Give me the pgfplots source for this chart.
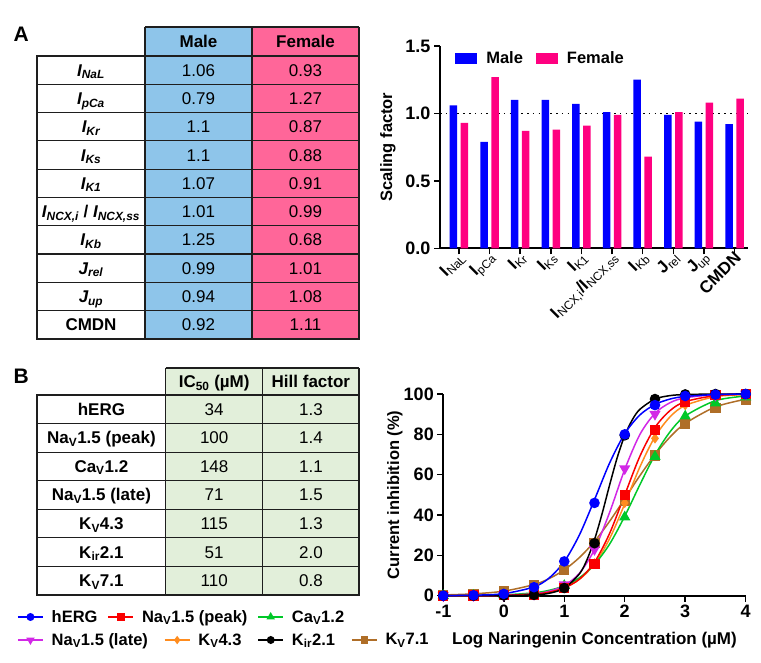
\documentclass[border=0pt]{standalone}
\usepackage{fontspec}
\setmainfont{Liberation Sans}
\usepackage{pgfplots}
\pgfplotsset{compat=1.18}
\definecolor{maleT}{RGB}{142,197,234}
\definecolor{femT}{RGB}{255,102,153}
\definecolor{greenT}{RGB}{226,239,218}
\definecolor{gridT}{RGB}{30,30,30}
\definecolor{barM}{RGB}{0,0,255}
\definecolor{barF}{RGB}{255,0,128}
\definecolor{cHERG}{RGB}{0,0,255}
\definecolor{cNaP}{RGB}{250,0,0}
\definecolor{cCa}{RGB}{0,200,40}
\definecolor{cNaL}{RGB}{210,40,230}
\definecolor{cKv}{RGB}{255,140,30}
\definecolor{cKir}{RGB}{0,0,0}
\definecolor{cKs}{RGB}{175,110,40}
\newcommand{\fs}[1]{\fontsize{#1}{#1}\selectfont}
\newcommand{\Ii}[2]{{\bfseries\itshape #1\textsubscript{#2}}}
\newcommand{\Xs}[2]{{\bfseries #1\textsubscript{\mdseries #2}}}
\begin{document}
\begin{tikzpicture}
\path[use as bounding box] (0pt,0pt) rectangle (761pt,662pt);
\begin{scope}[x=1pt,y=1pt,
  cell/.style={text height=12pt,text depth=0pt,inner sep=0pt,anchor=center},
  lab/.style={cell,font=\fs{17}\bfseries},
  val/.style={cell,font=\fs{17}}]
\node[font=\fs{21}\bfseries,anchor=west] at (10,628) {A};
\node[font=\fs{21}\bfseries,anchor=west] at (10,286) {B};
% ---------- Table A ----------
\fill[maleT] (145,323) rectangle (252,635);
\fill[femT] (252,323) rectangle (359,635);
\begin{scope}[line width=1.2pt,draw=gridT]
\draw (145,635) -- (359,635);
\draw (37,606) rectangle (359,323);
\foreach \k in {1,...,9} {\draw (37,{606-28.3*\k}) -- (359,{606-28.3*\k});}
\draw (145,323) -- (145,635);
\draw (252,323) -- (252,635);
\draw (359,323) -- (359,635);
\end{scope}
\node[lab] at (198.5,620.5) {Male};
\node[lab] at (305.5,620.5) {Female};
\node[lab] at (91,591.85) {\Ii{I}{NaL}};
\node[lab] at (91,563.55) {\Ii{I}{pCa}};
\node[lab] at (91,535.25) {\Ii{I}{Kr}};
\node[lab] at (91,506.95) {\Ii{I}{Ks}};
\node[lab] at (91,478.65) {\Ii{I}{K1}};
\node[lab] at (91,450.35) {\Ii{I}{NCX,i} / \Ii{I}{NCX,ss}};
\node[lab] at (91,422.05) {\Ii{I}{Kb}};
\node[lab] at (91,393.75) {\Ii{J}{rel}};
\node[lab] at (91,365.45) {\Ii{J}{up}};
\node[lab] at (91,337.15) {CMDN};
\foreach \y/\m/\f in {591.85/1.06/0.93,563.55/0.79/1.27,535.25/1.1/0.87,506.95/1.1/0.88,478.65/1.07/0.91,450.35/1.01/0.99,422.05/1.25/0.68,393.75/0.99/1.01,365.45/0.94/1.08,337.15/0.92/1.11}
  {\node[val] at (198.5,\y) {\m}; \node[val] at (305.5,\y) {\f};}
% ---------- Table B ----------
\fill[greenT] (165.7,67) rectangle (359,294);
\begin{scope}[line width=1.2pt,draw=gridT]
\draw (165.7,294) -- (359,294);
\draw (37,267) rectangle (359,67);
\foreach \k in {1,...,6} {\draw (37,{267-28.57*\k}) -- (359,{267-28.57*\k});}
\draw (165.7,67) -- (165.7,294);
\draw (262.7,67) -- (262.7,294);
\draw (359,67) -- (359,294);
\end{scope}
\node[lab] at (214.2,280.5) {IC\textsubscript{50} (µM)};
\node[lab] at (310.9,280.5) {Hill factor};
\foreach \y/\n/\a/\h in {252.7/hERG/34/1.3,224.1/Na\textsubscript{V}1.5 (peak)/100/1.4,195.6/Ca\textsubscript{V}1.2/148/1.1,167.0/Na\textsubscript{V}1.5 (late)/71/1.5,138.4/K\textsubscript{V}4.3/115/1.3,109.9/K\textsubscript{ir}2.1/51/2.0,81.3/K\textsubscript{V}7.1/110/0.8}
  {\node[lab] at (101.4,\y) {\n}; \node[val] at (214.2,\y) {\a}; \node[val] at (310.9,\y) {\h};}
\end{scope}
% ---------- Bar chart A ----------
\begin{axis}[at={(440pt,413.7pt)},anchor=south west,scale only axis,
  width=308pt,height=202.3pt,xmin=-0.62,xmax=9.44,ymin=0,ymax=1.5,
  axis x line*=bottom,axis y line*=left,axis line style={line width=1.8pt},
  tick align=outside,major tick length=6pt,tick style={black,line width=1.5pt},
  xtick={0,...,9},
  xticklabels={\Xs{I}{NaL},\Xs{I}{pCa},\Xs{I}{Kr},\Xs{I}{Ks},\Xs{I}{K1},{\Xs{I}{NCX,i}\textbf{/}\Xs{I}{NCX,ss}},\Xs{I}{Kb},\Xs{J}{rel},\Xs{J}{up},\textbf{CMDN}},
  xticklabel style={font=\fs{17}\bfseries,rotate=45,anchor=east,inner sep=1pt,xshift=3pt,yshift=-3pt},
  ytick={0,0.5,1,1.5},yticklabels={0.0,0.5,1.0,1.5},
  yticklabel style={font=\fs{18}\bfseries},
  ylabel={Scaling factor},
  ylabel style={font=\fs{16.5}\bfseries,at={(axis description cs:-0.169,0.5)},anchor=center},
  legend style={draw=none,fill=none,inner sep=0pt,at={(0.049,0.939)},anchor=west,
    font=\fs{16.5}\bfseries,legend columns=2,
    /tikz/every odd column/.append style={column sep=7pt},
    /tikz/every even column/.append style={column sep=11pt}},
  legend image code/.code={\fill[#1] (0pt,-5.5pt) rectangle (22pt,5.5pt);}]
\addplot[forget plot,black,line width=1.6pt,dash pattern=on 1.6pt off 4.2pt] coordinates {(-0.62,1) (9.44,1)};
\addplot[ybar,bar width=7.5pt,bar shift=-5.5pt,fill=barM,draw=none] coordinates {(0,1.06) (1,0.79) (2,1.1) (3,1.1) (4,1.07) (5,1.01) (6,1.25) (7,0.99) (8,0.94) (9,0.92)};
\addlegendentry{Male}
\addplot[ybar,bar width=7.5pt,bar shift=5.5pt,fill=barF,draw=none] coordinates {(0,0.93) (1,1.27) (2,0.87) (3,0.88) (4,0.91) (5,0.99) (6,0.68) (7,1.01) (8,1.08) (9,1.11)};
\addlegendentry{Female}
\end{axis}
% ---------- Curve chart B ----------
\begin{axis}[at={(443.3pt,66.3pt)},anchor=south west,scale only axis,
  width=302.4pt,height=201.7pt,xmin=-1,xmax=4,ymin=0,ymax=100,clip=false,
  axis x line*=bottom,axis y line*=left,axis line style={line width=1.8pt},
  tick align=outside,major tick length=6pt,tick style={black,line width=1.5pt},
  xtick={-1,0,1,2,3,4},xticklabels={-1,0,1,2,3,4},
  ytick={0,20,40,60,80,100},yticklabels={0,20,40,60,80,100},
  ticklabel style={font=\fs{18}\bfseries},
  xlabel={Log Naringenin Concentration (µM)},
  xlabel style={font=\fs{17}\bfseries,at={(axis description cs:0.5,-0.22)},anchor=center},
  ylabel={Current inhibition (\%)},
  ylabel style={font=\fs{16.5}\bfseries,at={(axis description cs:-0.16,0.5)},anchor=center},
  every axis plot/.append style={line width=1.5pt}]
% Kv7.1
\addplot[cKs,smooth] coordinates {(-1,0.37) (-0.5,0.92) (0,2.27) (0.5,5.52) (0.75,8.48) (1,12.8) (1.25,18.9) (1.5,26.9) (1.75,36.9) (2,48.1) (2.25,59.5) (2.5,69.9) (2.75,78.7) (3,85.4) (3.5,93.6) (4,97.4)};
\addplot[cKs,only marks,mark=square*,mark size=4.3pt] coordinates {(-1,0.3) (-0.5,0.9) (0,2.3) (0.5,5.5) (1,12.7) (1.5,26) (2,47) (2.5,69.5) (3,85) (3.5,93) (4,97)};
% Kv4.3
\addplot[cKv,smooth] coordinates {(-1,0.01) (-0.5,0.05) (0,0.21) (0.5,0.93) (0.75,1.94) (1,4.01) (1.25,8.12) (1.5,15.7) (1.75,28.3) (2,45.5) (2.25,63.8) (2.5,78.8) (2.75,88.7) (3,94.3) (3.5,98.7) (4,99.7)};
\addplot[cKv,only marks,mark=diamond*,mark size=4pt] coordinates {(-1,0) (-0.5,0.1) (0,0.3) (0.5,1) (1,4) (1.5,16) (2,46) (2.5,78) (3,94.5) (3.5,98.5) (4,99.5)};
% CaV1.2
\addplot[cCa,smooth] coordinates {(-1,0.03) (-0.5,0.12) (0,0.41) (0.5,1.43) (0.75,2.67) (1,4.91) (1.25,8.86) (1.5,15.5) (1.75,25.6) (2,39.4) (2.25,55.0) (2.5,69.8) (2.75,81.3) (3,89.1) (3.5,96.7) (4,99.0)};
\addplot[cCa,only marks,mark=triangle*,mark size=5pt] coordinates {(-1,0) (-0.5,0.1) (0,0.4) (0.5,1.2) (1,5) (1.5,15) (2,39) (2.5,69) (3,89) (3.5,95.5) (4,98.5)};
% NaV1.5 late
\addplot[cNaL,smooth] coordinates {(-1,0.01) (-0.5,0.03) (0,0.17) (0.5,0.93) (0.75,2.18) (1,5.02) (1.25,11.1) (1.5,22.9) (1.75,41.3) (2,62.6) (2.25,79.9) (2.5,90.4) (2.75,95.7) (3,98.1) (3.5,99.7) (4,99.94)};
\addplot[cNaL,only marks,mark=triangle*,mark size=5pt,mark options={rotate=180}] coordinates {(-1,0) (-0.5,0.1) (0,0.3) (0.5,0.8) (1,5.5) (1.5,23) (2,63) (2.5,90) (3,98) (3.5,99.5) (4,100)};
% NaV1.5 peak
\addplot[cNaP,smooth] coordinates {(-1,0.01) (-0.5,0.03) (0,0.16) (0.5,0.79) (0.75,1.75) (1,3.83) (1.25,8.18) (1.5,16.6) (1.75,30.9) (2,50) (2.25,69.1) (2.5,83.4) (2.75,91.8) (3,96.2) (3.5,99.2) (4,99.84)};
\addplot[cNaP,only marks,mark=square*,mark size=4.3pt] coordinates {(-1,0) (-0.5,0.1) (0,0.2) (0.5,0.5) (1,4) (1.5,15.8) (2,50) (2.5,82) (3,96) (3.5,99.5) (4,100)};
% Kir2.1
\addplot[cKir,smooth] coordinates {(-1,0) (-0.5,0.004) (0,0.04) (0.5,0.38) (0.75,1.2) (1,3.7) (1.25,10.8) (1.375,17.8) (1.5,27.8) (1.625,40.6) (1.75,54.9) (1.875,68.4) (2,79.4) (2.125,87.2) (2.25,92.4) (2.5,97.5) (2.75,99.2) (3,99.74) (3.5,99.97) (4,100)};
\addplot[cKir,only marks,mark=*,mark size=4.5pt] coordinates {(-1,0) (-0.5,0) (0,0.1) (0.5,0.4) (1,3.8) (1.5,26) (2,79.5) (2.5,97.5) (3,99.8) (3.5,100) (4,100)};
% hERG
\addplot[cHERG,smooth] coordinates {(-1,0.05) (-0.5,0.23) (0,1.01) (0.5,4.36) (0.75,8.79) (1,16.9) (1.25,30.1) (1.5,47.6) (1.75,65.8) (2,80.3) (2.25,89.6) (2.5,94.8) (2.75,97.5) (3,98.8) (3.5,99.7) (4,99.94)};
\addplot[cHERG,only marks,mark=*,mark size=4.5pt] coordinates {(-1,0) (-0.5,0.2) (0,0.9) (0.5,4.2) (1,17) (1.5,46) (2,80) (2.5,94.5) (3,99) (3.5,99.7) (4,100)};
\end{axis}
% ---------- Legend B (two rows) ----------
\begin{axis}[at={(17pt,44.5pt)},anchor=south west,scale only axis,width=1pt,height=1pt,
  hide axis,xmin=0,xmax=1,ymin=0,ymax=1,
  legend style={draw=none,fill=none,inner sep=0pt,at={(0,0.5)},anchor=west,
    font=\fs{16.5}\bfseries,legend columns=-1,
    /tikz/every odd column/.append style={column sep=6pt},
    /tikz/every even column/.append style={column sep=8pt}},
  legend image code/.code={\draw[mark repeat=2,mark phase=2,#1] plot coordinates {(0pt,0pt) (12.5pt,0pt) (25pt,0pt)};}]
\addlegendimage{cHERG,line width=1.5pt,mark=*,mark size=3.2pt}
\addlegendentry{hERG}
\addlegendimage{cNaP,line width=1.5pt,mark=square*,mark size=3pt}
\addlegendentry{Na\textsubscript{V}1.5 (peak)}
\addlegendimage{cCa,line width=1.5pt,mark=triangle*,mark size=3.5pt}
\addlegendentry{Ca\textsubscript{V}1.2}
\end{axis}
\begin{axis}[at={(17pt,21.5pt)},anchor=south west,scale only axis,width=1pt,height=1pt,
  hide axis,xmin=0,xmax=1,ymin=0,ymax=1,
  legend style={draw=none,fill=none,inner sep=0pt,at={(0,0.5)},anchor=west,
    font=\fs{16.5}\bfseries,legend columns=-1,
    /tikz/every odd column/.append style={column sep=6pt},
    /tikz/every even column/.append style={column sep=14pt}},
  legend image code/.code={\draw[mark repeat=2,mark phase=2,#1] plot coordinates {(0pt,0pt) (12.5pt,0pt) (25pt,0pt)};}]
\addlegendimage{cNaL,line width=1.5pt,mark=triangle*,mark size=3.5pt,mark options={rotate=180}}
\addlegendentry{Na\textsubscript{V}1.5 (late)}
\addlegendimage{cKv,line width=1.5pt,mark=diamond*,mark size=3pt}
\addlegendentry{K\textsubscript{V}4.3}
\addlegendimage{cKir,line width=1.5pt,mark=*,mark size=3.2pt}
\addlegendentry{K\textsubscript{ir}2.1}
\addlegendimage{cKs,line width=1.5pt,mark=square*,mark size=3pt}
\addlegendentry{K\textsubscript{V}7.1}
\end{axis}
\end{tikzpicture}
\end{document}
